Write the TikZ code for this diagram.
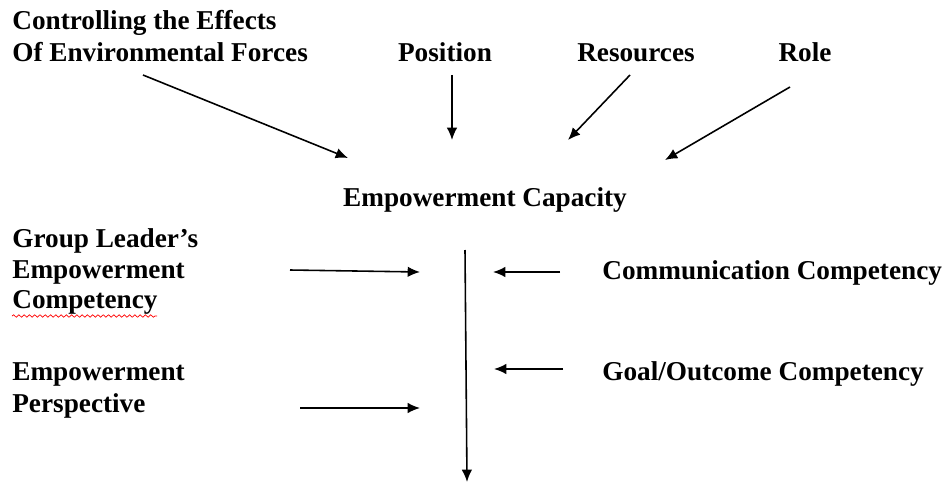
\documentclass[tikz,border=0pt]{standalone}
\usepackage{fontspec}
\setmainfont{Liberation Serif}
\usetikzlibrary{arrows.meta,decorations.pathmorphing}
\tikzset{
  lbl/.style={anchor=base west, inner sep=0pt, font=\fontsize{15.5}{18}\selectfont\bfseries},
  clbl/.style={lbl, anchor=base},
  arr/.style={line width=0.9pt, -{Latex[length=7pt,width=6pt]}}
}
\begin{document}
\begin{tikzpicture}[x=0.02cm,y=-0.02cm]
\useasboundingbox (0,0) rectangle (946,483);
% inputs on top
\node[lbl] (ctrlA) at (12,30) {Controlling the Effects};
\node[lbl] (ctrlB) at (12,62) {Of Environmental Forces};
\node[clbl] (pos) at (445,62) {Position};
\node[clbl] (res) at (636,62) {Resources};
\node[clbl] (role) at (805,62) {Role};
\node[clbl] (cap) at (485,206) {Empowerment Capacity};
% left side
\node[lbl] (glA) at (12,247) {Group Leader’s};
\node[lbl] (glB) at (12,278) {Empowerment};
\node[lbl] (glC) at (12,308) {Competency};
\node[lbl] (epA) at (12,380) {Empowerment};
\node[lbl] (epB) at (12,412) {Perspective};
% right side
\node[lbl] (com) at (602,279) {Communication Competency};
\node[lbl] (goal) at (602,380) {Goal/Outcome Competency};
% spell check mark
\draw[red, line width=0.4pt, decorate, decoration={snake, amplitude=0.7pt, segment length=3pt}] (12,316) -- (157,316);
% arrow ends
\coordinate (ctrlS) at (143,75);
\coordinate (ctrlE) at (348,158);
\coordinate (posS) at (452,75);
\coordinate (posE) at (452,140);
\coordinate (resS) at (630,75);
\coordinate (resE) at (568,140);
\coordinate (roleS) at (790,87);
\coordinate (roleE) at (665,160);
\coordinate (glS) at (290,270);
\coordinate (glE) at (420,272);
\coordinate (epS) at (300,408);
\coordinate (epE) at (420,408);
\coordinate (comS) at (560,272);
\coordinate (comE) at (493,272);
\coordinate (goalS) at (563,369);
\coordinate (goalE) at (494,369);
\coordinate (mainS) at (465,250);
\coordinate (mainE) at (467,482);
\draw[arr] (ctrlS) -- (ctrlE);
\draw[arr] (posS) -- (posE);
\draw[arr] (resS) -- (resE);
\draw[arr] (roleS) -- (roleE);
\draw[arr] (glS) -- (glE);
\draw[arr] (epS) -- (epE);
\draw[arr] (comS) -- (comE);
\draw[arr] (goalS) -- (goalE);
\draw[arr] (mainS) -- (mainE);
\end{tikzpicture}
\end{document}
